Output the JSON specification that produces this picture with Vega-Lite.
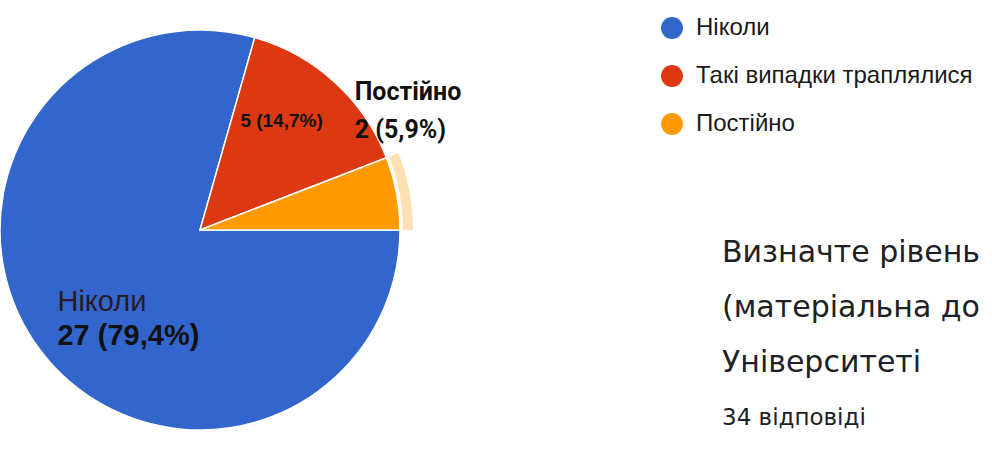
{
  "$schema": "https://vega.github.io/schema/vega-lite/v6.json",
  "autosize": "none",
  "width": 400,
  "height": 460,
  "padding": {"left": 0, "top": 0, "right": 592, "bottom": 0},
  "background": "#ffffff",
  "title": {
    "text": ["Визначте рівень", "(матеріальна до", "Університеті"],
    "subtitle": "34 відповіді",
    "orient": "top",
    "anchor": "start",
    "frame": "group",
    "dx": 722,
    "offset": -430,
    "font": "DejaVu Sans",
    "fontSize": 30,
    "fontWeight": "normal",
    "color": "#202124",
    "lineHeight": 55,
    "subtitleFont": "DejaVu Sans",
    "subtitleFontSize": 23,
    "subtitleColor": "#202124",
    "subtitlePadding": 29
  },
  "data": {
    "values": [
      {"answer": "Ніколи", "count": 27, "share": "27 (79,4%)", "rank": 1},
      {"answer": "Такі випадки траплялися", "count": 5, "share": "5 (14,7%)", "rank": 2},
      {"answer": "Постійно", "count": 2, "share": "2 (5,9%)", "rank": 3}
    ]
  },
  "encoding": {
    "theta": {"field": "count", "type": "quantitative", "stack": true, "scale": {"range": [1.5708, 7.854]}},
    "order": {"field": "rank", "type": "quantitative"}
  },
  "layer": [
    {
      "mark": {"type": "arc", "radius": 200, "stroke": "#ffffff", "strokeWidth": 1.5},
      "encoding": {
        "color": {
          "field": "answer",
          "type": "nominal",
          "scale": {"domain": ["Ніколи", "Такі випадки траплялися", "Постійно"], "range": ["#3366cc", "#dc3912", "#ff9900"]},
          "legend": {
            "title": null,
            "orient": "none",
            "legendX": 660,
            "legendY": 16,
            "direction": "vertical",
            "padding": 0,
            "symbolType": "circle",
            "symbolSize": 480,
            "symbolStrokeWidth": 0,
            "labelFont": "Liberation Sans",
            "labelFontSize": 24,
            "labelColor": "#1a1a1a",
            "labelOffset": 12,
            "labelLimit": 400,
            "rowPadding": 24
          }
        }
      }
    },
    {
      "mark": {"type": "arc", "radius": 203, "radius2": 213, "color": "#ff9900"},
      "encoding": {
        "opacity": {"condition": {"test": "datum.answer === 'Постійно'", "value": 0.3}, "value": 0}
      }
    },
    {
      "mark": {"type": "text", "radius": 168, "thetaOffset": 0.089, "dy": -17, "align": "left", "baseline": "middle", "font": "Liberation Sans", "fontSize": 29, "fontWeight": "normal", "color": "#2a1a22"},
      "encoding": {"text": {"condition": {"test": "datum.answer === 'Ніколи'", "field": "answer"}, "value": ""}}
    },
    {
      "mark": {"type": "text", "radius": 168, "thetaOffset": 0.089, "dy": 17, "align": "left", "baseline": "middle", "font": "Liberation Sans", "fontSize": 29, "fontWeight": "bold", "color": "#111111"},
      "encoding": {"text": {"condition": {"test": "datum.answer === 'Ніколи'", "field": "share"}, "value": ""}}
    },
    {
      "mark": {"type": "text", "radius": 136, "thetaOffset": -0.096, "align": "center", "baseline": "middle", "font": "Liberation Sans", "fontSize": 19, "fontWeight": "bold", "color": "#111111"},
      "encoding": {"text": {"condition": {"test": "datum.answer === 'Такі випадки траплялися'", "field": "share"}, "value": ""}}
    },
    {
      "mark": {"type": "text", "radius": 195, "thetaOffset": -0.47, "dy": -19, "align": "left", "baseline": "middle", "font": "Roboto", "fontSize": 25, "fontWeight": "bold", "color": "#111111"},
      "encoding": {"text": {"condition": {"test": "datum.answer === 'Постійно'", "field": "answer"}, "value": ""}}
    },
    {
      "mark": {"type": "text", "radius": 195, "thetaOffset": -0.47, "dy": 19, "align": "left", "baseline": "middle", "font": "Roboto", "fontSize": 25, "fontWeight": "bold", "color": "#111111"},
      "encoding": {"text": {"condition": {"test": "datum.answer === 'Постійно'", "field": "share"}, "value": ""}}
    }
  ]
}
